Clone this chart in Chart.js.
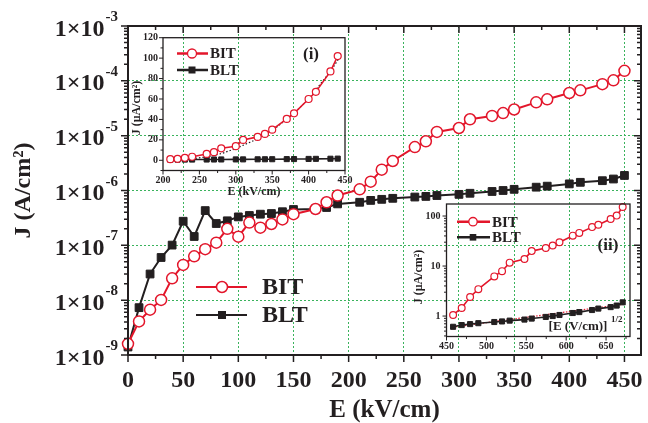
<!DOCTYPE html>
<html>
<head>
<meta charset="utf-8">
<script src="https://cdn.jsdelivr.net/npm/chart.js@4.4.1/dist/chart.umd.min.js"></script>
<style>
  body { margin: 0; background: #fff; }
  #wrap { position: relative; width: 648px; height: 423px; }
  canvas { position: absolute; }
</style>
</head>
<body>
<div id="wrap">
  <canvas id="mainChart" width="648" height="423" style="left:0;top:0"></canvas>
  <canvas id="insetI" width="235" height="172" style="left:125px;top:28px"></canvas>
  <canvas id="insetII" width="235" height="160" style="left:405px;top:195px"></canvas>
</div>
<script>
// field (kV/cm) and leakage current density (A/cm^2)
const fieldKV = [0, 10, 20, 30, 40, 50, 60, 70, 80, 90, 100, 110, 120, 130, 140, 150, 170, 180, 190,
  210, 220, 230, 240, 260, 270, 280, 300, 310, 330, 340, 350, 370, 380, 400, 410, 430, 440, 450];
const jBIT = [1.6e-9, 4.1e-9, 6.7e-9, 1.01e-8, 2.5e-8, 4.4e-8, 6.3e-8, 8.5e-8, 1.12e-7, 2.0e-7, 1.44e-7,
  2.6e-7, 2.1e-7, 2.45e-7, 2.97e-7, 3.7e-7, 4.6e-7, 6.1e-7, 8.1e-7,
  1.05e-6, 1.45e-6, 2.4e-6, 3.45e-6, 6.2e-6, 7.9e-6, 1.17e-5, 1.38e-5, 1.99e-5, 2.29e-5, 2.58e-5,
  3.0e-5, 4.05e-5, 4.6e-5, 6.0e-5, 6.7e-5, 8.7e-5, 1.02e-4, 1.52e-4];
const jBLT = [1.4e-9, 7.3e-9, 3.0e-8, 6.0e-8, 1.01e-7, 2.75e-7, 1.45e-7, 4.3e-7, 2.5e-7, 2.8e-7, 3.3e-7,
  3.5e-7, 3.7e-7, 3.8e-7, 4.1e-7, 4.5e-7, 4.6e-7, 4.9e-7, 5.7e-7,
  6.1e-7, 6.6e-7, 6.9e-7, 7.2e-7, 7.6e-7, 7.8e-7, 8.1e-7, 8.5e-7, 8.9e-7, 9.6e-7, 1.0e-6,
  1.05e-6, 1.15e-6, 1.2e-6, 1.32e-6, 1.41e-6, 1.51e-6, 1.62e-6, 1.88e-6];

// dotted fit in inset (i), uA/cm^2
const fitFieldI = [235, 260, 280, 300, 330, 350, 380, 400, 430, 442];
const fitJI = [1.2, 3.3, 6.5, 11.5, 21, 29, 46, 60, 87, 100];
// red dotted fit in inset (ii)
const fitRootII = [458, 672];
const fitJII = [0.6, 1.72];

// axis ticks
const mainTicksX = [0, 50, 100, 150, 200, 250, 300, 350, 400, 450];
const mainMinorX = [25, 75, 125, 175, 225, 275, 325, 375, 425];
const mainDecades = [-9, -8, -7, -6, -5, -4, -3];
const insetITicksX = [200, 250, 300, 350, 400, 450];
const insetIMinorX = [225, 275, 325, 375, 425];
const insetITicksY = [0, 20, 40, 60, 80, 100, 120];
const insetIMinorY = [-10, 10, 30, 50, 70, 90, 110];
const insetIITicksX = [450, 500, 550, 600, 650];
const insetIIMinorX = [475, 525, 575, 625, 675];
const insetIITicksY = [1, 10, 100];

const INK = '#231f20';
const RED = '#e3162b';
const GRID = '#3ab35c';
const SERIF = "'Liberation Serif', 'Times New Roman', serif";
Chart.defaults.font.family = SERIF;

function logMinors(lo, hi) {
  const out = [];
  for (let d = lo; d < hi; d++) {
    for (let m = 2; m <= 9; m++) out.push(m * Math.pow(10, d));
  }
  return out;
}

function drawText(ctx, t) {
  ctx.save();
  ctx.translate(t.x, t.y);
  if (t.rotate) ctx.rotate(-Math.PI / 2);
  ctx.font = 'bold ' + t.size + 'px ' + SERIF;
  ctx.fillStyle = INK;
  ctx.textBaseline = 'middle';
  ctx.textAlign = t.align || 'center';
  ctx.fillText(t.text, 0, 0);
  ctx.restore();
}

function drawLegendRow(ctx, l) {
  ctx.save();
  ctx.strokeStyle = l.color;
  ctx.lineWidth = l.lw;
  ctx.beginPath();
  ctx.moveTo(l.x1, l.y);
  ctx.lineTo(l.x2, l.y);
  ctx.stroke();
  if (l.style === 'circle') {
    ctx.beginPath();
    ctx.arc(l.mx, l.y, l.r, 0, Math.PI * 2);
    ctx.fillStyle = '#fff';
    ctx.fill();
    ctx.lineWidth = l.mlw;
    ctx.stroke();
  } else {
    ctx.fillStyle = l.color;
    ctx.fillRect(l.mx - l.r, l.y - l.r, 2 * l.r, 2 * l.r);
  }
  ctx.fillStyle = INK;
  ctx.font = 'bold ' + l.size + 'px ' + SERIF;
  ctx.textAlign = 'left';
  ctx.textBaseline = 'middle';
  ctx.fillText(l.text, l.tx, l.y + 1);
  ctx.restore();
}

// box, tick marks, legend and free text for each panel
function framePlugin(cfg) {
  return {
    id: 'frame',
    afterDraw(chart) {
      const ctx = chart.ctx;
      const {left, right, top, bottom} = chart.chartArea;
      const xs = chart.scales.x, ys = chart.scales.y;
      ctx.save();
      ctx.strokeStyle = INK;
      ctx.lineWidth = cfg.tickWidth;
      ctx.beginPath();
      const seg = (x1, y1, x2, y2) => { ctx.moveTo(x1, y1); ctx.lineTo(x2, y2); };
      const xMarks = cfg.xMajor.map(v => [v, cfg.major]).concat(cfg.xMinor.map(v => [v, cfg.minor]));
      xMarks.forEach(([v, len]) => {
        const p = xs.getPixelForValue(v);
        if (p < left - 0.5 || p > right + 0.5) return;
        seg(p, bottom, p, bottom + len);
        if (cfg.mirror) seg(p, top, p, top + len);
      });
      const yMarks = cfg.yMajor.map(v => [v, cfg.major]).concat(cfg.yMinor.map(v => [v, cfg.minor]));
      yMarks.forEach(([v, len]) => {
        const p = ys.getPixelForValue(v);
        if (p < top - 0.5 || p > bottom + 0.5) return;
        seg(left, p, left - len, p);
        if (cfg.mirror) seg(right, p, right - len, p);
      });
      ctx.stroke();
      ctx.lineWidth = cfg.frameWidth;
      ctx.strokeRect(left, top, right - left, bottom - top);
      (cfg.texts || []).forEach(t => drawText(ctx, t));
      (cfg.legend || []).forEach(l => drawLegendRow(ctx, l));
      if (cfg.extra) cfg.extra(chart, ctx);
      ctx.restore();
    }
  };
}

const points = (xs, ys) => xs.map((x, i) => ({x: x, y: ys[i]}));
const fixTicks = list => s => { s.ticks = list.map(v => ({value: v})); };
const boldFont = size => ({size: size, weight: 'bold'});

// ---------- main panel ----------
new Chart(document.getElementById('mainChart'), {
  type: 'line',
  data: {
    datasets: [
      {
        label: 'BIT', data: points(fieldKV, jBIT),
        borderColor: RED, borderWidth: 2, pointStyle: 'circle', pointRadius: 5.5,
        pointBackgroundColor: '#fff', pointBorderColor: RED, pointBorderWidth: 1.5, clip: false
      },
      {
        label: 'BLT', data: points(fieldKV, jBLT),
        borderColor: INK, borderWidth: 2, pointStyle: 'rect', pointRadius: 5.5,
        pointBackgroundColor: INK, pointBorderColor: INK, pointBorderWidth: 1, clip: false
      }
    ]
  },
  options: {
    responsive: false, animation: false, events: [],
    layout: {padding: {top: 26, right: 5, left: 0, bottom: 0}},
    plugins: {legend: {display: false}, tooltip: {enabled: false}},
    scales: {
      x: {
        type: 'linear', min: 0, max: 465,
        afterBuildTicks: fixTicks(mainTicksX),
        afterFit: s => { s.height = 68; s.paddingLeft = 0; s.paddingRight = 0; },
        ticks: {font: boldFont(24), color: INK, padding: 11, maxRotation: 0, autoSkip: false},
        grid: {color: c => (c.tick && c.tick.value > 0 ? GRID : 'rgba(0,0,0,0)'), lineWidth: 1, drawTicks: false},
        border: {display: false, dash: [2, 2]},
        title: {display: true, text: 'E (kV/cm)', color: INK, font: {size: 25, weight: 'bold', lineHeight: 1}, padding: 0}
      },
      y: {
        type: 'logarithmic', min: 1e-9, max: 1e-3,
        afterBuildTicks: fixTicks(mainDecades.map(d => Math.pow(10, d))),
        afterFit: s => { s.width = 128; s.paddingTop = 0; s.paddingBottom = 0; },
        ticks: {display: false},
        grid: {color: GRID, lineWidth: 1, drawTicks: false},
        border: {display: false, dash: [2, 2]},
        title: {display: true, text: 'J (A/cm²)', color: INK, font: {size: 24, weight: 'bold'}, padding: {top: 9, bottom: 0}}
      }
    }
  },
  plugins: [framePlugin({
    xMajor: mainTicksX, xMinor: mainMinorX,
    yMajor: mainDecades.map(d => Math.pow(10, d)), yMinor: logMinors(-9, -3),
    major: 7, minor: 4, mirror: true, tickWidth: 1.5, frameWidth: 2,
    legend: [
      {y: 287, x1: 196, x2: 247, mx: 222, r: 5.5, style: 'circle', color: RED, lw: 2, mlw: 1.5, text: 'BIT', tx: 262, size: 24},
      {y: 315, x1: 196, x2: 247, mx: 222, r: 4, style: 'rect', color: INK, lw: 2, text: 'BLT', tx: 262, size: 24}
    ],
    extra: (chart, ctx) => {
      const ys = chart.scales.y;
      mainDecades.forEach(d => {
        const p = ys.getPixelForValue(Math.pow(10, d));
        const exp = String(d);
        ctx.fillStyle = INK;
        ctx.textAlign = 'left';
        ctx.textBaseline = 'alphabetic';
        ctx.font = 'bold 15px ' + SERIF;
        const we = ctx.measureText(exp).width;
        ctx.fillText(exp, 118 - we, p - 5);
        ctx.font = 'bold 24px ' + SERIF;
        const wb = ctx.measureText('1×10').width;
        ctx.fillText('1×10', 118 - we - wb - 1, p + 9.5);
      });
    }
  })]
});

// ---------- inset (i): linear J vs E ----------
const insetFrom = fieldKV.indexOf(210);
const insetFieldI = fieldKV.slice(insetFrom, -1);
const insetBIT_I = jBIT.slice(insetFrom, -1).map(v => v * 1e6);
const insetBLT_I = jBLT.slice(insetFrom, -1).map(v => v * 1e6);

new Chart(document.getElementById('insetI'), {
  type: 'line',
  data: {
    datasets: [
      {
        label: 'BIT', data: points(insetFieldI, insetBIT_I),
        borderColor: RED, borderWidth: 1.6, pointStyle: 'circle', pointRadius: 3.5,
        pointBackgroundColor: '#fff', pointBorderColor: RED, pointBorderWidth: 1.2, clip: false
      },
      {
        label: 'BLT', data: points(insetFieldI, insetBLT_I),
        borderColor: INK, borderWidth: 1.6, pointStyle: 'rect', pointRadius: 3.6,
        pointBackgroundColor: INK, pointBorderColor: INK, pointBorderWidth: 1, clip: false
      },
      {
        label: 'fit', data: points(fitFieldI, fitJI),
        borderColor: INK, borderWidth: 1.2, borderDash: [1.5, 2], pointRadius: 0
      }
    ]
  },
  options: {
    responsive: false, animation: false, events: [],
    layout: {padding: {top: 9.7, right: 15, left: 0, bottom: 0}},
    plugins: {legend: {display: false}, tooltip: {enabled: false}},
    scales: {
      x: {
        type: 'linear', min: 200, max: 450,
        afterBuildTicks: fixTicks(insetITicksX),
        afterFit: s => { s.height = 29.5; s.paddingLeft = 0; s.paddingRight = 0; },
        ticks: {font: boldFont(10), color: INK, padding: 4, maxRotation: 0, autoSkip: false},
        grid: {display: false, drawTicks: false}, border: {display: false}
      },
      y: {
        type: 'linear', min: -10, max: 120,
        afterBuildTicks: fixTicks(insetITicksY),
        afterFit: s => { s.width = 38; s.paddingTop = 0; s.paddingBottom = 0; },
        ticks: {font: boldFont(10), color: INK, padding: 5, autoSkip: false},
        grid: {display: false, drawTicks: false}, border: {display: false}
      }
    }
  },
  plugins: [framePlugin({
    xMajor: insetITicksX, xMinor: insetIMinorX, yMajor: insetITicksY, yMinor: insetIMinorY,
    major: 4, minor: 2.5, mirror: false, tickWidth: 1, frameWidth: 1.3,
    texts: [
      {text: '(i)', x: 186, y: 27, size: 17},
      {text: 'E (kV/cm)', x: 129, y: 164, size: 12},
      {text: 'J (μA/cm²)', x: 12, y: 80, size: 12, rotate: true}
    ],
    legend: [
      {y: 25.5, x1: 52, x2: 83, mx: 67, r: 4.5, style: 'circle', color: RED, lw: 2.5, mlw: 1.3, text: 'BIT', tx: 85, size: 15},
      {y: 42, x1: 52, x2: 83, mx: 67, r: 3.5, style: 'rect', color: INK, lw: 2.5, text: 'BLT', tx: 85, size: 15}
    ]
  })]
});

// ---------- inset (ii): log J vs sqrt(E) ----------
const insetRootII = fieldKV.slice(insetFrom).map(e => Math.sqrt(e * 1000));
const insetBIT_II = jBIT.slice(insetFrom).map(v => v * 1e6);
const insetBLT_II = jBLT.slice(insetFrom).map(v => v * 1e6);

new Chart(document.getElementById('insetII'), {
  type: 'line',
  data: {
    datasets: [
      {
        label: 'BIT', data: points(insetRootII, insetBIT_II),
        borderColor: RED, borderWidth: 1.6, pointStyle: 'circle', pointRadius: 3.4,
        pointBackgroundColor: '#fff', pointBorderColor: RED, pointBorderWidth: 1.2, clip: false
      },
      {
        label: 'BLT', data: points(insetRootII, insetBLT_II),
        borderColor: INK, borderWidth: 1.6, pointStyle: 'rect', pointRadius: 3.6,
        pointBackgroundColor: INK, pointBorderColor: INK, pointBorderWidth: 1, clip: false
      },
      {
        label: 'fit', data: points(fitRootII, fitJII),
        borderColor: RED, borderWidth: 1.2, borderDash: [1.5, 1.5], pointRadius: 0
      }
    ]
  },
  options: {
    responsive: false, animation: false, events: [],
    layout: {padding: {top: 9, right: 10, left: 0, bottom: 0}},
    plugins: {legend: {display: false}, tooltip: {enabled: false}},
    scales: {
      x: {
        type: 'linear', min: 450, max: 680,
        afterBuildTicks: fixTicks(insetIITicksX),
        afterFit: s => { s.height = 18.5; s.paddingLeft = 0; s.paddingRight = 0; },
        ticks: {font: boldFont(10), color: INK, padding: 4, maxRotation: 0, autoSkip: false},
        grid: {display: false, drawTicks: false}, border: {display: false}
      },
      y: {
        type: 'logarithmic', min: 0.39, max: 174,
        afterBuildTicks: fixTicks(insetIITicksY),
        afterFit: s => { s.width = 41.5; s.paddingTop = 0; s.paddingBottom = 0; },
        ticks: {font: boldFont(10), color: INK, padding: 6, autoSkip: false, callback: v => String(v)},
        grid: {display: false, drawTicks: false}, border: {display: false}
      }
    }
  },
  plugins: [framePlugin({
    xMajor: insetIITicksX, xMinor: insetIIMinorX, yMajor: insetIITicksY, yMinor: logMinors(-1, 2),
    major: 4, minor: 2.5, mirror: false, tickWidth: 1, frameWidth: 1.3,
    texts: [
      {text: '(ii)', x: 203, y: 51, size: 17},
      {text: '[E (V/cm)]', x: 173, y: 132, size: 13},
      {text: '1/2', x: 206, y: 125, size: 9, align: 'left'},
      {text: 'J (μA/cm²)', x: 14, y: 82, size: 12, rotate: true}
    ],
    legend: [
      {y: 26.7, x1: 52, x2: 85, mx: 68, r: 4.2, style: 'circle', color: RED, lw: 2.5, mlw: 1.3, text: 'BIT', tx: 87, size: 15},
      {y: 42.3, x1: 52, x2: 85, mx: 68, r: 3.3, style: 'rect', color: INK, lw: 2.5, text: 'BLT', tx: 87, size: 15}
    ]
  })]
});
</script>
</body>
</html>
